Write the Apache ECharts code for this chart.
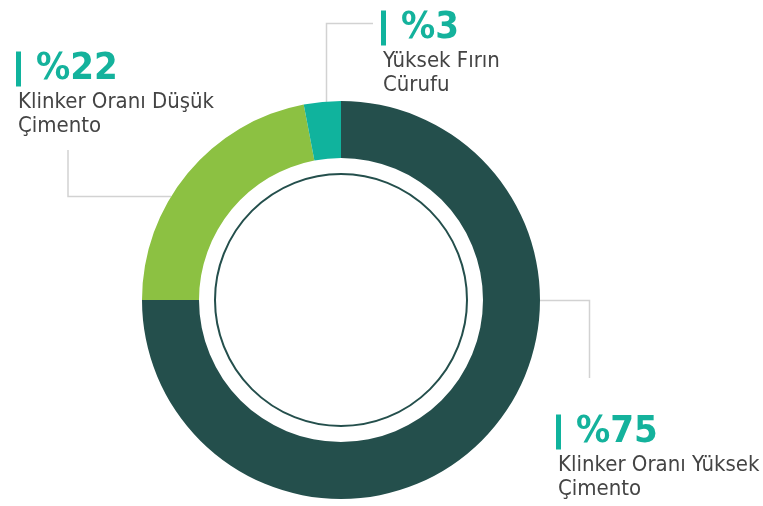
<!DOCTYPE html>
<html>
<head>
<meta charset="utf-8">
<script src="https://cdn.jsdelivr.net/npm/echarts@6/dist/echarts.min.js"></script>
<style>
  html, body { margin: 0; padding: 0; background: #fff; }
  #chart { width: 763px; height: 506px; }
</style>
</head>
<body>
<div id="chart"></div>
<script>
// data
const names = ['Klinker Oranı Yüksek\nÇimento', 'Klinker Oranı Düşük\nÇimento', 'Yüksek Fırın\nCürufu'];
const values = [75, 22, 3];
const colors = ['#244f4c', '#8cc142', '#10b39d'];
// where each label box starts (top-left)
const labelPos = [[556, 411], [16, 48], [381, 7]];

const chart = echarts.init(document.getElementById('chart'));
const FONT = '"DejaVu Sans Condensed", "DejaVu Sans", sans-serif';

const option = {
    animation: false,
    graphic: [
        // leader lines
        { type: 'polyline', shape: { points: [[68, 150], [68, 196.5], [171, 196.5]] }, style: { stroke: '#d2d2d2', lineWidth: 1.5, fill: null } },
        { type: 'polyline', shape: { points: [[373, 23.5], [326.5, 23.5], [326.5, 102]] }, style: { stroke: '#d2d2d2', lineWidth: 1.5, fill: null } },
        { type: 'polyline', shape: { points: [[539, 300.5], [589.5, 300.5], [589.5, 378]] }, style: { stroke: '#d2d2d2', lineWidth: 1.5, fill: null } },
        // thin inner ring
        { type: 'circle', shape: { cx: 341, cy: 300, r: 126 }, style: { stroke: '#244f4c', lineWidth: 2, fill: null } }
    ],
    series: [{
        type: 'pie',
        center: [341, 300],
        radius: [142, 199],
        startAngle: 90,
        clockwise: true,
        silent: true,
        data: values.map((v, i) => ({
            value: v,
            name: names[i],
            itemStyle: { color: colors[i] }
        })),
        label: {
            show: true,
            position: 'outside',
            overflow: 'none',
            fontFamily: FONT,
            formatter: p => {
                const lines = p.name.split('\n').map(s => '{name|' + s + '}').join('\n');
                return '{bar| }{gap| }{pct|%' + p.value + '}\n' + lines;
            },
            rich: {
                bar: { backgroundColor: '#10b39d', width: 5, height: 35 },
                gap: { width: 15, height: 35 },
                pct: { fontFamily: FONT, fontSize: 38, fontWeight: 'bold', color: '#14b29c', lineHeight: 42 },
                name: { fontFamily: FONT, fontSize: 22, color: '#444', lineHeight: 24, padding: [0, 0, 0, 2] }
            }
        },
        labelLine: { show: false },
        labelLayout: params => ({
            x: labelPos[params.dataIndex][0],
            y: labelPos[params.dataIndex][1],
            align: 'left',
            verticalAlign: 'top',
            hideOverlap: false,
            moveOverlap: false
        })
    }]
};

chart.setOption(option);
window.addEventListener('resize', () => chart.resize());
</script>
</body>
</html>
